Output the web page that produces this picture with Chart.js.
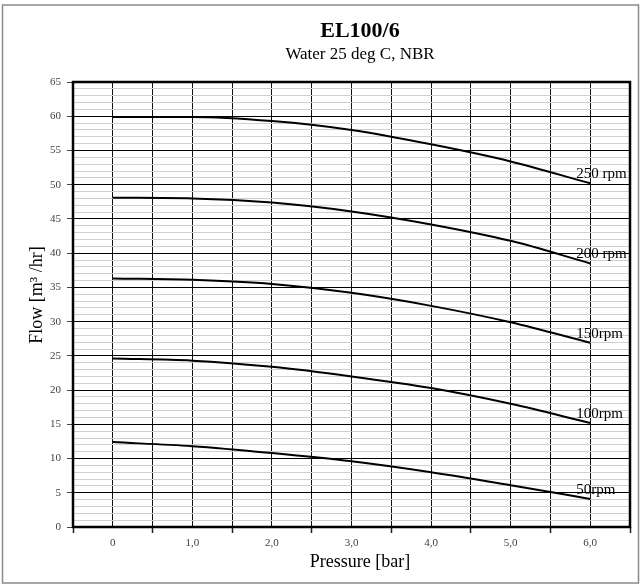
<!DOCTYPE html>
<html><head><meta charset="utf-8">
<script src="https://cdn.jsdelivr.net/npm/chart.js@4"></script>
<style>html,body{margin:0;padding:0;background:#fff;}
canvas{display:block}
</style></head><body>
<canvas id="c" width="641" height="586"></canvas>
<script>
// ---- data ----
const pressures = [0, 1, 2, 3, 4, 5, 6];
const flow250 = [59.9, 59.9, 59.3, 58.0, 55.9, 53.4, 50.2];
const flow200 = [48.1, 48.0, 47.4, 46.1, 44.2, 41.8, 38.5];
const flow150 = [36.3, 36.1, 35.5, 34.2, 32.3, 29.9, 26.9];
const flow100 = [24.6, 24.3, 23.4, 22.0, 20.3, 18.0, 15.2];
const flow50  = [12.4, 11.8, 10.8, 9.6, 8.0, 6.1, 4.1];
const seriesNames = ['250 rpm', '200 rpm', '150rpm', '100rpm', '50rpm'];
const seriesValues = [flow250, flow200, flow150, flow100, flow50];
const xTickLabels = ['0', '1,0', '2,0', '3,0', '4,0', '5,0', '6,0'];
const chartTitle = 'EL100/6';
const chartSubtitle = 'Water 25 deg C, NBR';
const xTitle = 'Pressure [bar]';
const yTitle = 'Flow [m\u00B3 /hr]';

const SERIF = '"Liberation Serif", "DejaVu Serif", serif';

const datasets = seriesValues.map((vals, i) => ({
  label: seriesNames[i],
  data: pressures.map((p, j) => ({x: p, y: vals[j]})),
  borderColor: '#000',
  borderWidth: 2,
  pointRadius: 0,
  tension: 0.4,
  cubicInterpolationMode: 'monotone',
  fill: false
}));

const decor = {
  id: 'decor',
  beforeDraw(chart) {
    const c = chart.ctx;
    c.save();
    c.fillStyle = '#fff';
    c.fillRect(0, 0, chart.width, chart.height);
    c.strokeStyle = '#8a8a8a';
    c.lineWidth = 1.5;
    c.strokeRect(2.5, 5, 636, 578);
    c.restore();
  },
  afterDatasetsDraw(chart) {
    const c = chart.ctx;
    const a = chart.chartArea;
    c.save();
    c.strokeStyle = '#000';
    c.lineWidth = 2.5;
    c.strokeRect(a.left, a.top, a.right - a.left, a.bottom - a.top);
    // curve labels
    c.fillStyle = '#000';
    c.font = '15px ' + SERIF;
    c.textAlign = 'left';
    c.textBaseline = 'alphabetic';
    chart.data.datasets.forEach((ds, i) => {
      const meta = chart.getDatasetMeta(i);
      const pt = meta.data[meta.data.length - 1];
      c.fillText(ds.label, pt.x - 14, pt.y - 5);
    });
    // titles
    c.textAlign = 'center';
    c.font = 'bold 22px ' + SERIF;
    c.fillText(chartTitle, 360, 37);
    c.font = '17px ' + SERIF;
    c.fillText(chartSubtitle, 360, 59);
    c.font = '18px ' + SERIF;
    c.fillText(xTitle, 360, 567);
    c.translate(42, 295);
    c.rotate(-Math.PI / 2);
    c.font = '18px ' + SERIF;
    c.fillText(yTitle, 0, 0);
    c.restore();
  }
};

new Chart(document.getElementById('c'), {
  type: 'line',
  data: {datasets},
  options: {
    responsive: false,
    animation: false,
    layout: {padding: {left: 0, top: 82, right: 11, bottom: 0}},
    plugins: {legend: {display: false}, tooltip: {enabled: false}, title: {display: false}},
    scales: {
      x: {
        type: 'linear',
        min: -0.5, max: 6.5,
        z: 0,
        afterFit(s) { s.height = 59; },
        border: {display: false},
        grid: {
          color: '#111',
          lineWidth: 1,
          drawTicks: true,
          tickLength: 6,
          tickWidth: 1.5,
          tickColor: ctx => (ctx.tick && !Number.isInteger(ctx.tick.value)) ? '#222' : 'rgba(0,0,0,0)'
        },
        ticks: {
          stepSize: 0.5,
          autoSkip: false,
          maxRotation: 0,
          padding: 4,
          color: '#404040',
          font: {family: SERIF, size: 11},
          callback: v => Number.isInteger(v) ? xTickLabels[v] : ''
        }
      },
      y: {
        type: 'linear',
        min: 0, max: 65,
        z: -1,
        afterFit(s) { s.width = 73; },
        border: {display: false},
        grid: {
          color: ctx => (ctx.tick && ctx.tick.value % 5 === 0) ? '#000' : '#cfcfcf',
          lineWidth: 1,
          drawTicks: true,
          tickLength: 6,
          tickColor: ctx => (ctx.tick && ctx.tick.value % 5 === 0) ? '#444' : 'rgba(0,0,0,0)'
        },
        ticks: {
          stepSize: 1,
          autoSkip: false,
          padding: 6,
          color: '#404040',
          font: {family: SERIF, size: 11},
          callback: v => (v % 5 === 0) ? String(v) : ''
        }
      }
    }
  },
  plugins: [decor]
});
</script>
</body></html>
